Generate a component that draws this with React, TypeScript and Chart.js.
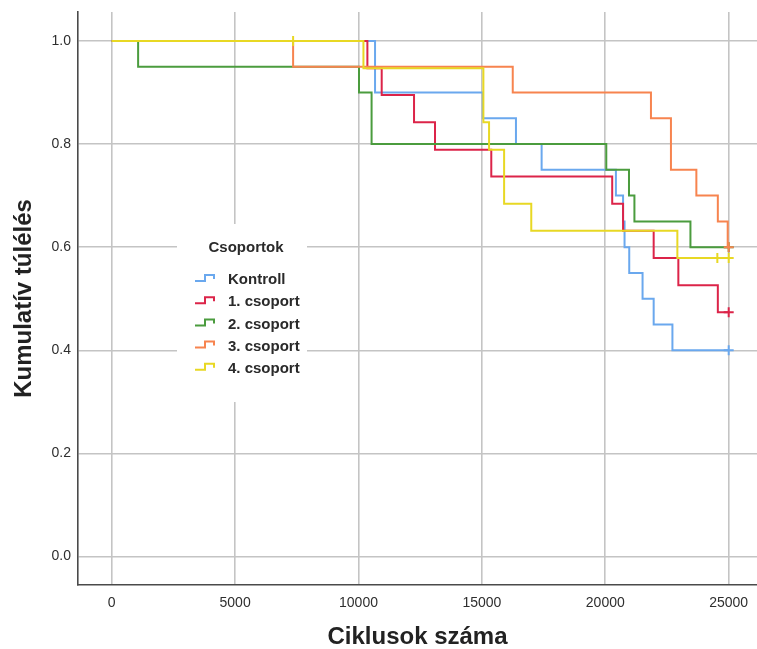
import React, { useEffect, useRef } from 'react';
import { Chart, registerables } from 'chart.js';

Chart.register(...registerables);

const groupNames = ['Kontroll', '1. csoport', '2. csoport', '3. csoport', '4. csoport'];
const groupColors = ['#6aa8ee', '#dc2449', '#4b9c3e', '#f7844f', '#e8d824'];

const kontrollTimes = [0, 10670, 15040, 16380, 17420, 20430, 20720, 20780, 20970, 21510, 21960, 22720, 25000];
const kontrollSurv = [1, 0.9, 0.85, 0.8, 0.75, 0.7, 0.65, 0.6, 0.55, 0.5, 0.45, 0.4, 0.4];
const kontrollCensorTimes = [25000];
const kontrollCensorSurv = [0.4];

const csoport1Times = [0, 10360, 10940, 12250, 13100, 15380, 20280, 20720, 21960, 22960, 24560, 25000];
const csoport1Surv = [1, 0.947, 0.895, 0.842, 0.789, 0.737, 0.684, 0.632, 0.579, 0.526, 0.474, 0.474];
const csoport1CensorTimes = [25000];
const csoport1CensorSurv = [0.474];

const csoport2Times = [0, 1070, 10020, 10530, 20040, 20960, 21180, 23450, 25000];
const csoport2Surv = [1, 0.95, 0.9, 0.8, 0.75, 0.7, 0.65, 0.6, 0.6];
const csoport2CensorTimes = [25000];
const csoport2CensorSurv = [0.6];

const csoport3Times = [0, 7350, 16250, 21850, 22660, 23690, 24560, 24960, 25000];
const csoport3Surv = [1, 0.95, 0.9, 0.85, 0.75, 0.7, 0.65, 0.6, 0.6];
const csoport3CensorTimes = [25000];
const csoport3CensorSurv = [0.6];

const csoport4Times = [0, 10200, 15060, 15290, 15900, 17000, 22920, 25000];
const csoport4Surv = [1, 0.947, 0.842, 0.789, 0.684, 0.632, 0.579, 0.579];
const csoport4CensorTimes = [7350, 24540, 25000];
const csoport4CensorSurv = [1, 0.579, 0.579];

const xTickValues = [0, 5000, 10000, 15000, 20000, 25000];
const yTickValues = [0, 0.2, 0.4, 0.6, 0.8, 1.0];
const xAxisMin = -1366;
const xAxisMax = 26147;
const yAxisMin = -0.055;
const yAxisMax = 1.056;

const xTitle = 'Ciklusok száma';
const yTitle = 'Kumulatív túlélés';
const legendTitle = 'Csoportok';

const FONT = "'Liberation Sans', Arial, sans-serif";

const seriesTimes = [kontrollTimes, csoport1Times, csoport2Times, csoport3Times, csoport4Times];
const seriesSurv = [kontrollSurv, csoport1Surv, csoport2Surv, csoport3Surv, csoport4Surv];
const censorTimes = [kontrollCensorTimes, csoport1CensorTimes, csoport2CensorTimes, csoport3CensorTimes, csoport4CensorTimes];
const censorSurv = [kontrollCensorSurv, csoport1CensorSurv, csoport2CensorSurv, csoport3CensorSurv, csoport4CensorSurv];

const legendPlugin = {
  id: 'kmLegend',
  afterDraw(chart: any) {
    const ctx = chart.ctx;
    const area = chart.chartArea;
    const bx = area.left + 99;
    const by = area.top + 212;
    const bw = 130;
    const bh = 178;
    ctx.save();
    ctx.fillStyle = '#ffffff';
    ctx.fillRect(bx, by, bw, bh);
    ctx.fillStyle = '#2a2a2a';
    ctx.font = `bold 15px ${FONT}`;
    ctx.textAlign = 'center';
    ctx.textBaseline = 'middle';
    ctx.fillText(legendTitle, bx + 69, by + 24);
    ctx.textAlign = 'left';
    for (let i = 0; i < groupNames.length; i++) {
      const cy = by + 55 + i * 22.2;
      const x0 = bx + 18;
      ctx.strokeStyle = groupColors[i];
      ctx.lineWidth = 2;
      ctx.beginPath();
      ctx.moveTo(x0, cy + 2);
      ctx.lineTo(x0 + 10, cy + 2);
      ctx.lineTo(x0 + 10, cy - 4);
      ctx.lineTo(x0 + 19, cy - 4);
      ctx.lineTo(x0 + 19, cy + 0);
      ctx.stroke();
      ctx.fillStyle = '#2a2a2a';
      ctx.fillText(groupNames[i], bx + 51, cy + 1);
    }
    ctx.restore();
  },
};

export default function App() {
  const canvasRef = useRef<HTMLCanvasElement | null>(null);

  useEffect(() => {
    document.body.style.margin = '0';
    const canvas = canvasRef.current;
    if (!canvas) return;

    const datasets: any[] = [];
    for (let i = 0; i < groupNames.length; i++) {
      datasets.push({
        type: 'line',
        label: groupNames[i],
        data: seriesTimes[i].map((t, j) => ({ x: t, y: seriesSurv[i][j] })),
        borderColor: groupColors[i],
        backgroundColor: groupColors[i],
        borderWidth: 2,
        stepped: 'before',
        pointRadius: 0,
        fill: false,
        order: 10 - 2 * i,
      });
      datasets.push({
        type: 'scatter',
        label: groupNames[i] + ' censored',
        data: censorTimes[i].map((t, j) => ({ x: t, y: censorSurv[i][j] })),
        borderColor: groupColors[i],
        backgroundColor: groupColors[i],
        pointStyle: 'cross',
        pointRadius: 5,
        pointBorderWidth: 2,
        showLine: false,
        order: 9 - 2 * i,
      });
    }

    const chart = new Chart(canvas, {
      type: 'line',
      data: { datasets },
      plugins: [legendPlugin],
      options: {
        animation: false,
        responsive: false,
        devicePixelRatio: 1,
        layout: { autoPadding: false, padding: { top: 12, right: 0, left: 0, bottom: 0 } },
        plugins: {
          legend: { display: false },
          tooltip: { enabled: false },
        },
        scales: {
          x: {
            type: 'linear',
            min: xAxisMin,
            max: xAxisMax,
            afterBuildTicks: (scale: any) => {
              scale.ticks = xTickValues.map((v) => ({ value: v }));
            },
            afterFit: (scale: any) => {
              scale.height = 64;
              scale.paddingLeft = 0;
              scale.paddingRight = 0;
            },
            grid: { color: '#c4c4c4', lineWidth: 1.6, drawTicks: false },
            border: { color: '#4a4a4a', width: 1.6 },
            ticks: {
              font: { family: FONT, size: 14 },
              color: '#2e2e2e',
              padding: 10,
              maxRotation: 0,
              callback: (v: any) => String(v),
            },
            title: {
              display: true,
              text: xTitle,
              font: { family: FONT, size: 24, weight: 'bold' },
              color: '#222222',
              padding: { top: 0, bottom: -3 },
            },
          },
          y: {
            type: 'linear',
            min: yAxisMin,
            max: yAxisMax,
            afterBuildTicks: (scale: any) => {
              scale.ticks = yTickValues.map((v) => ({ value: v }));
            },
            afterFit: (scale: any) => {
              scale.width = 78;
              scale.paddingTop = 0;
              scale.paddingBottom = 0;
            },
            grid: { color: '#c4c4c4', lineWidth: 1.6, drawTicks: false },
            border: { color: '#4a4a4a', width: 1.6 },
            ticks: {
              font: { family: FONT, size: 14 },
              color: '#2e2e2e',
              padding: 7,
              callback: (v: any) => Number(v).toFixed(1),
            },
            title: {
              display: true,
              text: yTitle,
              font: { family: FONT, size: 24, weight: 'bold' },
              color: '#222222',
              padding: { top: 10, bottom: 0 },
            },
          },
        },
      } as any,
    });

    return () => {
      chart.destroy();
    };
  }, []);

  return (
    <div style={{ position: 'absolute', left: 0, top: 0, width: 757, height: 649, background: '#ffffff' }}>
      <canvas ref={canvasRef} width={757} height={649} style={{ width: 757, height: 649, display: 'block' }} />
    </div>
  );
}
